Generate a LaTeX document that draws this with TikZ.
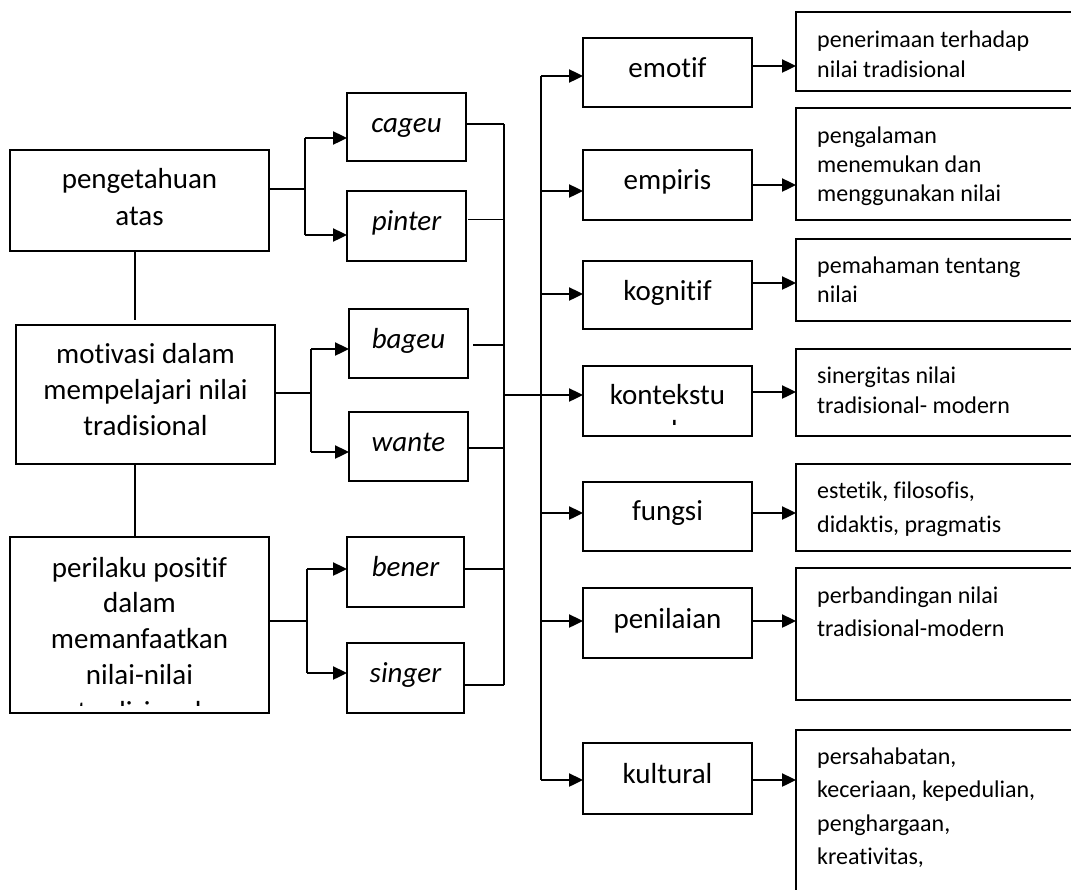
\documentclass[tikz,border=0pt]{standalone}
\usepackage{fontspec}
\setmainfont{Carlito}[Ligatures={NoCommon}]
\usetikzlibrary{arrows.meta}
\newcommand\mybox[5]{\node[box, minimum width=#4pt, minimum height=#5pt] (#1) at (#2,#3) {};}
\begin{document}
\begin{tikzpicture}[x=1pt,y=-1pt,
  box/.style={draw, line width=1.8pt, inner sep=0pt, outer sep=0pt, anchor=north west},
  plain/.style={line width=1.6pt},
  arr/.style={line width=2.4pt, -{Triangle[length=14pt,width=13pt]}},
  big/.style={font=\fontsize{29}{35}\selectfont, inner sep=0pt, anchor=base},
  bigi/.style={font=\fontsize{29}{35}\selectfont\itshape, inner sep=0pt, anchor=base},
  small/.style={font=\fontsize{24}{29}\selectfont, inner sep=0pt, anchor=base west}]
\useasboundingbox (0,0) rectangle (1071,889);
\clip (0,0) rectangle (1071,889);
% left boxes
\mybox{peng}{10}{150}{259}{101}
\mybox{moti}{16}{325}{259}{139}
\mybox{peri}{10}{537}{259}{176}
% small boxes
\mybox{cageu}{347}{93}{119}{68}
\mybox{pinter}{347}{191}{119}{70}
\mybox{bageu}{349}{309}{119}{69}
\mybox{wante}{349}{412}{119}{69}
\mybox{bener}{347}{537}{117}{70}
\mybox{singer}{347}{643}{117}{70}
% middle boxes
\mybox{emotif}{583}{38}{169}{69}
\mybox{empiris}{583}{150}{169}{70}
\mybox{kognitif}{583}{261}{169}{68}
\mybox{kontek}{583}{366}{169}{70}
\mybox{fungsi}{583}{482}{169}{69}
\mybox{penil}{583}{588}{169}{70}
\mybox{kultur}{583}{743}{169}{71}
% right boxes
\mybox{rA}{796}{12}{320}{79}
\mybox{rB}{796}{108}{320}{112}
\mybox{rC}{796}{239}{320}{82}
\mybox{rD}{796}{349}{320}{87}
\mybox{rE}{796}{464}{320}{87}
\mybox{rF}{796}{568}{320}{132}
\mybox{rG}{796}{730}{320}{220}
% left texts
\node[big] (tp1) at (139.5,188) {pengetahuan};
\node[big] (tp2) at (139.5,225) {atas};
\node[big] (tm1) at (145.5,363) {motivasi dalam};
\node[big] (tm2) at (145.5,399) {mempelajari nilai};
\node[big] (tm3) at (145.5,435) {tradisional};
\begin{scope}
\clip (10,537) rectangle (269,705.5);
\node[big] (tq1) at (139.5,577) {perilaku positif};
\node[big] (tq2) at (139.5,612.5) {dalam};
\node[big] (tq3) at (139.5,648) {memanfaatkan};
\node[big] (tq4) at (139.5,684) {nilai-nilai};
\node[big] (tq5) at (139.5,721) {tradisional};
\end{scope}
% small texts
\node[bigi] (tc) at (406.5,132) {cageu};
\node[bigi] (tpi) at (406.5,230) {pinter};
\node[bigi] (tb) at (408.5,348) {bageu};
\node[bigi] (tw) at (408.5,451) {wante};
\node[bigi] (tbe) at (405.5,576) {bener};
\node[bigi] (ts) at (405.5,682) {singer};
% middle texts
\node[big] (te) at (667.5,77) {emotif};
\node[big] (tem) at (667.5,189) {empiris};
\node[big] (tk) at (667.5,300) {kognitif};
\begin{scope}
\clip (583,366) rectangle (752,424);
\node[big] (tko1) at (667.5,404) {kontekstu};
\node[big] (tko2) at (667.5,440) {al};
\end{scope}
\node[big] (tf) at (667.5,520) {fungsi};
\node[big] (tpn) at (667.5,628) {penilaian};
\node[big] (tku) at (667.5,783) {kultural};
% right texts
\node[small] (ra1) at (817,47) {penerimaan terhadap};
\node[small] (ra2) at (817,77) {nilai tradisional};
\node[small] (rb1) at (817,143) {pengalaman};
\node[small] (rb2) at (817,172) {menemukan dan};
\node[small] (rb3) at (817,201) {menggunakan nilai};
\node[small] (rc1) at (817,273) {pemahaman tentang};
\node[small] (rc2) at (817,302) {nilai};
\node[small] (rd1) at (817,383) {sinergitas nilai};
\node[small] (rd2) at (817,413) {tradisional- modern};
\node[small] (re1) at (817,498) {estetik, filosofis,};
\node[small] (re2) at (817,532) {didaktis, pragmatis};
\node[small] (rf1) at (817,603) {perbandingan nilai};
\node[small] (rf2) at (817,636) {tradisional-modern};
\node[small] (rg1) at (817,764) {persahabatan,};
\node[small] (rg2) at (817,797) {keceriaan, kepedulian,};
\node[small] (rg3) at (817,831) {penghargaan,};
\node[small] (rg4) at (817,864) {kreativitas,};
% left vertical links
\coordinate (c1) at (135,320);
\draw[plain] (c1 |- peng.south) -- (c1);
\draw[plain] (c1 |- moti.south) -- (c1 |- peri.north);
% forks
\coordinate (jA) at (305,189);
\coordinate (jAt) at (305,138);
\coordinate (jAb) at (305,235);
\draw[plain] (jA -| peng.east) -- (jA);
\draw[plain] (jAt) -- (jAb);
\draw[arr] (jAt) -- (jAt -| cageu.west);
\draw[arr] (jAb) -- (jAb -| pinter.west);
\coordinate (jB) at (311,393);
\coordinate (jBt) at (311,349);
\coordinate (jBb) at (311,452);
\draw[plain] (jB -| moti.east) -- (jB);
\draw[plain] (jBt) -- (jBb);
\draw[arr] (jBt) -- (jBt -| bageu.west);
\draw[arr] (jBb) -- (jBb -| wante.west);
\coordinate (jC) at (307,621);
\coordinate (jCt) at (307,569);
\coordinate (jCb) at (307,673);
\draw[plain] (jC -| peri.east) -- (jC);
\draw[plain] (jCt) -- (jCb);
\draw[arr] (jCt) -- (jCt -| bener.west);
\draw[arr] (jCb) -- (jCb -| singer.west);
% collector
\coordinate (k1) at (504,124);
\coordinate (k2) at (504,219.5);
\coordinate (k3) at (504,345);
\coordinate (k4) at (504,448);
\coordinate (k5) at (504,569);
\coordinate (k6) at (504,685);
\draw[plain] (k1 -| cageu.east) -- (k1);
\draw[plain] ([xshift=2pt]k2 -| pinter.east) -- (k2);
\draw[plain] ([xshift=5pt]k3 -| bageu.east) -- (k3);
\draw[plain] (k4 -| wante.east) -- (k4);
\draw[plain] (k5 -| bener.east) -- (k5);
\draw[plain] (k6 -| singer.east) -- (k6);
\draw[plain] (k1) -- (k6);
\coordinate (hub) at (504,395);
\coordinate (mk) at (541,395);
\draw[plain] (hub) -- (mk);
% main vertical
\coordinate (m1) at (541,76);
\coordinate (m2) at (541,191);
\coordinate (m3) at (541,294);
\coordinate (m5) at (541,513);
\coordinate (m6) at (541,621);
\coordinate (m7) at (541,780);
\draw[arr, -] (m1) -- (m7);
\draw[arr] (m1) -- (m1 -| emotif.west);
\draw[arr] (m2) -- (m2 -| empiris.west);
\draw[arr] (m3) -- (m3 -| kognitif.west);
\draw[arr] (mk) -- (mk -| kontek.west);
\draw[arr] (m5) -- (m5 -| fungsi.west);
\draw[arr] (m6) -- (m6 -| penil.west);
\draw[arr] (m7) -- (m7 -| kultur.west);
% middle to right
\coordinate (n1) at (752,66);
\coordinate (n2) at (752,185);
\coordinate (n3) at (752,283);
\coordinate (n4) at (752,392);
\coordinate (n5) at (752,513);
\coordinate (n6) at (752,621);
\coordinate (n7) at (752,780);
\draw[arr] (n1 -| emotif.east) -- (n1 -| rA.west);
\draw[arr] (n2 -| empiris.east) -- (n2 -| rB.west);
\draw[arr] (n3 -| kognitif.east) -- (n3 -| rC.west);
\draw[arr] (n4 -| kontek.east) -- (n4 -| rD.west);
\draw[arr] (n5 -| fungsi.east) -- (n5 -| rE.west);
\draw[arr] (n6 -| penil.east) -- (n6 -| rF.west);
\draw[arr] (n7 -| kultur.east) -- (n7 -| rG.west);
\end{tikzpicture}
\end{document}
